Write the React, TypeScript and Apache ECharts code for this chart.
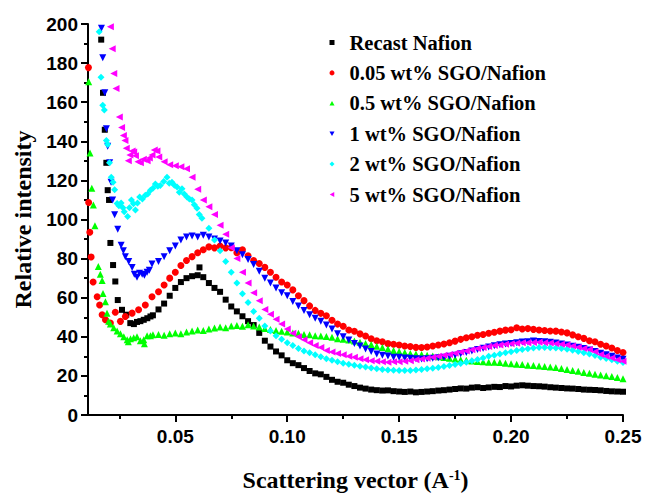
import React, { useEffect, useRef } from "react";
import * as echarts from "echarts";

const seriesNames = [
  "Recast Nafion",
  "0.05 wt% SGO/Nafion",
  "0.5 wt% SGO/Nafion",
  "1 wt% SGO/Nafion",
  "2 wt% SGO/Nafion",
  "5 wt% SGO/Nafion",
];

const xTickValues = [0.05, 0.1, 0.15, 0.2, 0.25];
const xMinorTickValues = [0.025, 0.075, 0.125, 0.175, 0.225];

const recastNafion: [number, number][] = [
  [0.0169, 192], [0.0177, 164.8], [0.0185, 145.9], [0.0192, 129], [0.0198, 115], [0.0204, 110], [0.021, 88],
  [0.0222, 76.7], [0.0232, 68.3], [0.0243, 58.8], [0.0262, 53.8], [0.0281, 51.3], [0.0299, 47], [0.0315, 46.5],
  [0.0329, 47.6], [0.0344, 48], [0.0359, 48.7], [0.0375, 49.5], [0.0389, 50.4],
  [0.04, 51], [0.0425, 54], [0.045, 57], [0.0475, 61], [0.05, 65], [0.0525, 68], [0.055, 70], [0.0575, 71],
  [0.0608, 75.5], [0.06, 71.5], [0.0625, 70.5], [0.065, 67.5], [0.0675, 65], [0.07, 63], [0.0725, 59], [0.075, 55.5],
  [0.0775, 53], [0.08, 50.5], [0.0825, 48], [0.085, 46], [0.0875, 42], [0.09, 38], [0.0925, 35], [0.095, 32.5],
  [0.0975, 30.5], [0.1, 28], [0.1025, 26.5], [0.105, 25.5], [0.1075, 24], [0.11, 22.5], [0.1125, 21.3], [0.115, 20.8],
  [0.1175, 19.5], [0.12, 18], [0.1225, 17], [0.125, 16.5], [0.1275, 15.5], [0.13, 14.8], [0.1325, 14], [0.135, 13.5],
  [0.1375, 13], [0.14, 12.7], [0.1425, 12.5], [0.145, 12.6], [0.1475, 12.2], [0.15, 12], [0.1525, 11.8], [0.155, 12],
  [0.1575, 11.6], [0.16, 11.8], [0.1625, 12], [0.165, 12.2], [0.1675, 12.5], [0.17, 12.7], [0.1725, 13], [0.175, 13.3],
  [0.1775, 13.6], [0.18, 13.5], [0.1825, 14], [0.185, 14.2], [0.1875, 13.8], [0.19, 14.1], [0.1925, 14.4], [0.195, 14.3],
  [0.1975, 14.8], [0.2, 14.6], [0.2025, 15], [0.205, 15.2], [0.2075, 15], [0.21, 14.8], [0.2125, 14.7], [0.215, 14.5],
  [0.2175, 14.2], [0.22, 14], [0.2225, 13.8], [0.225, 13.6], [0.2275, 13.5], [0.23, 13.3], [0.2325, 13], [0.235, 12.9],
  [0.2375, 12.8], [0.24, 12.6], [0.2425, 12.3], [0.245, 12.1], [0.2475, 12], [0.25, 11.9],
];

const sgo005: [number, number][] = [
  [0.0112, 177.7], [0.0113, 108.7], [0.0118, 93.5], [0.0124, 80.8], [0.0133, 68], [0.0151, 60.5], [0.0162, 56.3],
  [0.0173, 51.3], [0.0188, 48.7], [0.021, 47], [0.0232, 52.6], [0.0255, 47.9], [0.0277, 50.4], [0.0307, 52.1],
  [0.0336, 53.8], [0.0366, 56.3], [0.0396, 60.5],
  [0.0425, 63], [0.045, 66.5], [0.0475, 70], [0.05, 73], [0.0525, 76.5], [0.055, 79], [0.0575, 81], [0.06, 83],
  [0.0625, 84.5], [0.065, 86], [0.0675, 85.5], [0.07, 86.4], [0.0725, 85.5], [0.075, 85.6], [0.0775, 83], [0.08, 84.5],
  [0.0825, 81.5], [0.085, 79], [0.0875, 77.5], [0.09, 75.5], [0.0925, 73], [0.095, 70.5], [0.0975, 68], [0.1, 66.5],
  [0.1025, 64], [0.105, 61], [0.1075, 58.5], [0.11, 55.8], [0.1125, 53.5], [0.115, 52], [0.1175, 50.8], [0.12, 48.5],
  [0.1225, 46.5], [0.125, 45.4], [0.1275, 43.5], [0.13, 42.8], [0.1325, 41.5], [0.135, 40.4], [0.1375, 39], [0.14, 38],
  [0.1425, 37.5], [0.145, 36.5], [0.1475, 36.2], [0.15, 35.8], [0.1525, 35.3], [0.155, 35], [0.1575, 34.6], [0.16, 34.5],
  [0.1625, 34.8], [0.165, 35.3], [0.1675, 35.8], [0.17, 36.3], [0.1725, 37], [0.175, 37.8], [0.1775, 38.7], [0.18, 39.5],
  [0.1825, 40], [0.185, 40.8], [0.1875, 41.2], [0.19, 41.8], [0.1925, 42.3], [0.195, 42.9], [0.1975, 43.4], [0.2, 43.6],
  [0.2025, 44.6], [0.205, 44], [0.2075, 44.2], [0.21, 43.8], [0.2125, 43.5], [0.215, 43.2], [0.2175, 43], [0.22, 42.9],
  [0.2225, 42.5], [0.225, 42], [0.2275, 41], [0.23, 40], [0.2325, 39.2], [0.235, 38], [0.2375, 37.5], [0.24, 36.2],
  [0.2425, 35.3], [0.245, 34.3], [0.2475, 33], [0.25, 32],
];

const sgo05: [number, number][] = [
  [0.0113, 170.5], [0.0119, 134], [0.0127, 116], [0.0134, 107.4], [0.0141, 96.8], [0.0156, 76], [0.0165, 72],
  [0.0173, 68.8], [0.0177, 62.1], [0.0188, 57.9], [0.0195, 52], [0.0202, 47.9], [0.021, 46.5], [0.0225, 44.6],
  [0.024, 43], [0.0255, 41.5], [0.027, 40], [0.0285, 38.5], [0.029, 37.5], [0.03, 39], [0.0314, 39.5], [0.0329, 40],
  [0.0344, 38], [0.0359, 38.5], [0.0362, 36.5], [0.0374, 40.5], [0.0389, 40.5],
  [0.04, 41], [0.0425, 41.2], [0.045, 40.8], [0.0475, 41.5], [0.05, 42], [0.0525, 41.6], [0.055, 42.5], [0.0575, 43],
  [0.06, 43.5], [0.0625, 43.2], [0.065, 44], [0.0675, 44.5], [0.07, 45], [0.0725, 44.6], [0.075, 45.5], [0.0775, 45.8],
  [0.08, 45.4], [0.0825, 46.2], [0.085, 45.5], [0.0875, 45], [0.09, 44.2], [0.0925, 43.7], [0.095, 43.2], [0.0975, 42.9],
  [0.1, 42.5], [0.1025, 42], [0.105, 41.8], [0.1075, 41.2], [0.11, 41], [0.1125, 40.6], [0.115, 40.4], [0.1175, 40.2],
  [0.12, 39.8], [0.1225, 39], [0.125, 38.7], [0.1275, 38.3], [0.13, 37.8], [0.1325, 37.2], [0.135, 36.6], [0.1375, 36],
  [0.14, 35.2], [0.1425, 34.5], [0.145, 33.7], [0.1475, 33], [0.15, 32.5], [0.1525, 32], [0.155, 31.5], [0.1575, 31.2],
  [0.16, 31], [0.1625, 30.5], [0.165, 30.2], [0.1675, 29.8], [0.17, 29.4], [0.1725, 29], [0.175, 28.6], [0.1775, 28.2],
  [0.18, 28], [0.1825, 27.6], [0.185, 27.4], [0.1875, 27.2], [0.19, 27], [0.1925, 27], [0.195, 26.8], [0.1975, 26.5],
  [0.2, 26.2], [0.2025, 26], [0.205, 25.8], [0.2075, 25.5], [0.21, 25.3], [0.2125, 25.1], [0.215, 24.8], [0.2175, 24.5],
  [0.22, 24.3], [0.2225, 23.8], [0.225, 23.3], [0.2275, 22.8], [0.23, 22.4], [0.2325, 21.8], [0.235, 21.3], [0.2375, 20.8],
  [0.24, 20.5], [0.2425, 20.1], [0.245, 19.7], [0.2475, 19.2], [0.25, 18.6],
];

const sgo1: [number, number][] = [
  [0.017, 197.8], [0.0176, 182.7], [0.0185, 164.8], [0.0192, 146.4], [0.0198, 137.5], [0.0207, 129], [0.0213, 119],
  [0.022, 110], [0.0229, 102.4], [0.0243, 95], [0.0258, 86.8], [0.0268, 84], [0.0277, 81], [0.0292, 78.5],
  [0.0307, 75.5], [0.0317, 72], [0.0329, 70.5], [0.034, 72.5], [0.0352, 72], [0.0362, 71.5], [0.0374, 73],
  [0.0384, 74], [0.0396, 77.2],
  [0.0425, 78.5], [0.045, 81], [0.0475, 84], [0.05, 86.5], [0.0525, 89.5], [0.055, 91], [0.0575, 91.5], [0.06, 91],
  [0.0625, 92], [0.065, 91], [0.0675, 90], [0.07, 89], [0.0725, 88], [0.075, 86.4], [0.0775, 84], [0.08, 82],
  [0.0825, 79.5], [0.085, 77], [0.0875, 73.5], [0.09, 70], [0.0925, 67.5], [0.095, 65], [0.0975, 62.5], [0.1, 61],
  [0.1025, 58], [0.105, 55.8], [0.1075, 53.5], [0.11, 51.3], [0.1125, 49.5], [0.115, 48], [0.1175, 46], [0.12, 44],
  [0.1225, 41.5], [0.125, 40], [0.1275, 38.3], [0.13, 36.6], [0.1325, 35.3], [0.135, 33.7], [0.1375, 32.5], [0.14, 31.2],
  [0.1425, 30.6], [0.145, 30.2], [0.1475, 29.6], [0.15, 29.5], [0.1525, 29.2], [0.155, 29], [0.1575, 28.8], [0.16, 28.6],
  [0.1625, 28.8], [0.165, 29], [0.1675, 29.3], [0.17, 29.5], [0.1725, 30], [0.175, 30.6], [0.1775, 31.3], [0.18, 32],
  [0.1825, 32.8], [0.185, 33.5], [0.1875, 34.2], [0.19, 34.8], [0.1925, 35.4], [0.195, 35.9], [0.1975, 36.3], [0.2, 36.6],
  [0.2025, 37], [0.205, 37.3], [0.2075, 37.5], [0.21, 37.8], [0.2125, 37.6], [0.215, 37.5], [0.2175, 37.2], [0.22, 36.8],
  [0.2225, 36.3], [0.225, 35.8], [0.2275, 35.2], [0.23, 34.6], [0.2325, 34], [0.235, 33.3], [0.2375, 32.5], [0.24, 31.6],
  [0.2425, 30.8], [0.245, 30], [0.2475, 29.2], [0.25, 28.5],
];

const sgo2: [number, number][] = [
  [0.016, 196], [0.0168, 172.7], [0.0176, 158.4], [0.0183, 156], [0.0192, 140.4], [0.0198, 138.3], [0.0206, 129],
  [0.0214, 121.6], [0.0222, 119], [0.0229, 115.2], [0.024, 108.2], [0.0248, 107], [0.0258, 108.5], [0.0266, 106],
  [0.0272, 104], [0.0287, 101.5], [0.0295, 106], [0.0304, 110], [0.0313, 108], [0.0322, 104.9], [0.0331, 108.5],
  [0.0341, 111.5], [0.0353, 110.5], [0.0366, 112.4], [0.0377, 113], [0.0389, 115], [0.04, 116], [0.0411, 118.2],
  [0.0422, 117], [0.0433, 117.4], [0.0448, 119.5], [0.0463, 121.6], [0.0473, 118.5], [0.0485, 119], [0.0496, 117.5],
  [0.0508, 116.6], [0.0518, 114], [0.053, 115.7], [0.054, 113], [0.0552, 111.5], [0.0563, 110.5], [0.0575, 110],
  [0.0585, 107.5], [0.0597, 105.7], [0.0607, 102.5], [0.0619, 100.7],
  [0.065, 95.5], [0.0675, 89.5], [0.07, 84], [0.0725, 78.5], [0.075, 73], [0.0775, 67.5], [0.08, 62], [0.0825, 57.5],
  [0.085, 53], [0.0875, 49.5], [0.09, 45.5], [0.0925, 43], [0.095, 40.5], [0.0975, 38.8], [0.1, 37], [0.1025, 35.5],
  [0.105, 34], [0.1075, 32.8], [0.11, 31.8], [0.1125, 30.8], [0.115, 29.8], [0.1175, 28.8], [0.12, 28], [0.1225, 27.2],
  [0.125, 26.5], [0.1275, 26], [0.13, 25.5], [0.1325, 25], [0.135, 24.5], [0.1375, 24], [0.14, 23.6], [0.1425, 23.3],
  [0.145, 23], [0.1475, 22.9], [0.15, 22.8], [0.1525, 22.7], [0.155, 22.8], [0.1575, 23], [0.16, 23.3], [0.1625, 23.6],
  [0.165, 23.9], [0.1675, 24.3], [0.17, 24.8], [0.1725, 25.3], [0.175, 25.8], [0.1775, 26.4], [0.18, 27], [0.1825, 27.7],
  [0.185, 28.4], [0.1875, 29.2], [0.19, 30], [0.1925, 30.6], [0.195, 31.2], [0.1975, 31.8], [0.2, 32.4], [0.2025, 33],
  [0.205, 33.5], [0.2075, 33.9], [0.21, 34.3], [0.2125, 34.5], [0.215, 34.5], [0.2175, 34.4], [0.22, 34.3], [0.2225, 34],
  [0.225, 33.6], [0.2275, 33.1], [0.23, 32.5], [0.2325, 31.8], [0.235, 31.2], [0.2375, 30.4], [0.24, 29.6], [0.2425, 28.9],
  [0.245, 28.2], [0.2475, 27.5], [0.25, 26.8],
];

const sgo5: [number, number][] = [
  [0.021, 198.6], [0.0218, 187.3], [0.0225, 174.7], [0.0235, 167], [0.025, 152.4], [0.026, 147], [0.0268, 143],
  [0.0275, 140.4], [0.0281, 136.5], [0.029, 130], [0.0297, 133], [0.0307, 135], [0.0314, 134.5], [0.0322, 132.6],
  [0.0333, 129.5], [0.0344, 129], [0.0357, 130.8], [0.0374, 130], [0.0384, 131.5], [0.0396, 133], [0.0406, 135.5],
  [0.0418, 135], [0.0426, 132],
  [0.045, 129.5], [0.0475, 128], [0.05, 127.5], [0.0525, 127], [0.055, 126], [0.0575, 121.6], [0.06, 115.5],
  [0.0625, 110], [0.065, 106.5], [0.0675, 102.5], [0.07, 97], [0.0725, 92.5], [0.075, 85.5], [0.0775, 80], [0.08, 73],
  [0.0825, 67.5], [0.085, 62.5], [0.0875, 58.5], [0.09, 54], [0.0925, 51.5], [0.095, 49], [0.0975, 46.5], [0.1, 44],
  [0.1025, 41.8], [0.105, 40], [0.1075, 38.5], [0.11, 37], [0.1125, 35.6], [0.115, 34.5], [0.1175, 33], [0.12, 32.2],
  [0.1225, 31.5], [0.125, 30.8], [0.1275, 30], [0.13, 29.5], [0.1325, 28.8], [0.135, 28.2], [0.1375, 27.8], [0.14, 27.5],
  [0.1425, 27.3], [0.145, 27], [0.1475, 27.2], [0.15, 27.3], [0.1525, 27.5], [0.155, 27.8], [0.1575, 28.2], [0.16, 28.6],
  [0.1625, 29], [0.165, 29.5], [0.1675, 30], [0.17, 30.5], [0.1725, 31], [0.175, 31.6], [0.1775, 32.2], [0.18, 32.8],
  [0.1825, 33.4], [0.185, 34], [0.1875, 34.5], [0.19, 35], [0.1925, 35.5], [0.195, 35.8], [0.1975, 36.2], [0.2, 36.5],
  [0.2025, 36.7], [0.205, 36.9], [0.2075, 37], [0.21, 37.1], [0.2125, 37.2], [0.215, 37], [0.2175, 36.8], [0.22, 36.5],
  [0.2225, 36.2], [0.225, 35.8], [0.2275, 35.3], [0.23, 34.6], [0.2325, 34], [0.235, 33.5], [0.2375, 32.3], [0.24, 31],
  [0.2425, 30], [0.245, 29.2], [0.2475, 28.2], [0.25, 27.5],
];

const seriesData = [recastNafion, sgo005, sgo05, sgo1, sgo2, sgo5];
const seriesColors = ["#000000", "#ff0000", "#00ff00", "#0000ff", "#00ffff", "#ff00ff"];
const seriesSymbols = [
  "rect",
  "circle",
  "path://M5,0 L10,9 L0,9 Z",
  "path://M0,0 L10,0 L5,9 Z",
  "diamond",
  "path://M0,5 L9,0 L9,10 Z",
];
const seriesSizes = [6, 7, 7, 7, 7, 7];

const SERIF = "Liberation Serif";
const SANS = "Liberation Sans";

export default function App() {
  const ref = useRef<HTMLDivElement>(null);
  useEffect(() => {
    if (!ref.current) return;
    const chart = echarts.init(ref.current, undefined, { renderer: "svg" });
    const axisLine = { show: true, lineStyle: { color: "#000", width: 2 } };
    chart.setOption({
      animation: false,
      backgroundColor: "#fff",
      grid: { left: 88, right: 22, top: 24, bottom: 75, containLabel: false },
      legend: {
        orient: "vertical",
        left: 329.5,
        top: 32,
        padding: 0,
        itemWidth: 5,
        itemHeight: 5,
        itemGap: 9.4,
        data: seriesNames,
        textStyle: {
          fontFamily: SERIF,
          fontWeight: "bold",
          fontSize: 20.5,
          lineHeight: 20,
          color: "#000",
          padding: [0, 0, 0, 10],
        },
      },
      xAxis: [
        {
          type: "value",
          min: 0.011,
          max: 0.25,
          position: "bottom",
          axisLine,
          splitLine: { show: false },
          axisTick: { show: true, length: 7, lineStyle: { color: "#000", width: 2 }, customValues: xTickValues },
          axisLabel: {
            customValues: xTickValues,
            margin: 12,
            fontFamily: SANS,
            fontWeight: "bold",
            fontSize: 19,
            color: "#000",
            formatter: (v: number) => v.toFixed(2),
          },
          name: "{a|Scattering vector (A}{s|-1}{a|)}",
          nameLocation: "middle",
          nameGap: 53,
          nameTextStyle: {
            rich: {
              a: { fontFamily: SERIF, fontWeight: "bold", fontSize: 24, color: "#000" },
              s: { fontFamily: SERIF, fontWeight: "bold", fontSize: 14, color: "#000", verticalAlign: "top", padding: [0, 0, 10, 0] },
            },
          },
        },
        {
          type: "value",
          min: 0.011,
          max: 0.25,
          position: "bottom",
          axisLine: { show: false },
          splitLine: { show: false },
          axisTick: { show: true, length: 4, lineStyle: { color: "#000", width: 2 }, customValues: xMinorTickValues },
          axisLabel: { show: false },
        },
      ],
      yAxis: {
        type: "value",
        min: 0,
        max: 200,
        interval: 20,
        axisLine,
        splitLine: { show: false },
        axisTick: { show: true, length: 7, lineStyle: { color: "#000", width: 2 } },
        minorTick: { show: true, splitNumber: 2, length: 4, lineStyle: { color: "#000", width: 2 } },
        axisLabel: {
          margin: 10,
          fontFamily: SANS,
          fontWeight: "bold",
          fontSize: 19,
          color: "#000",
        },
        name: "Relative intensity",
        nameLocation: "middle",
        nameGap: 53,
        nameTextStyle: { fontFamily: SERIF, fontWeight: "bold", fontSize: 24, color: "#000" },
      },
      series: seriesNames.map((name, i) => ({
        name,
        type: "scatter",
        xAxisIndex: 0,
        data: seriesData[i],
        symbol: seriesSymbols[i],
        symbolSize: seriesSizes[i],
        itemStyle: { color: seriesColors[i], opacity: 1 },
        emphasis: { disabled: true },
      })),
    });
    return () => chart.dispose();
  }, []);
  return <div ref={ref} style={{ position: "fixed", left: 0, top: 0, width: 645, height: 497 }} />;
}
